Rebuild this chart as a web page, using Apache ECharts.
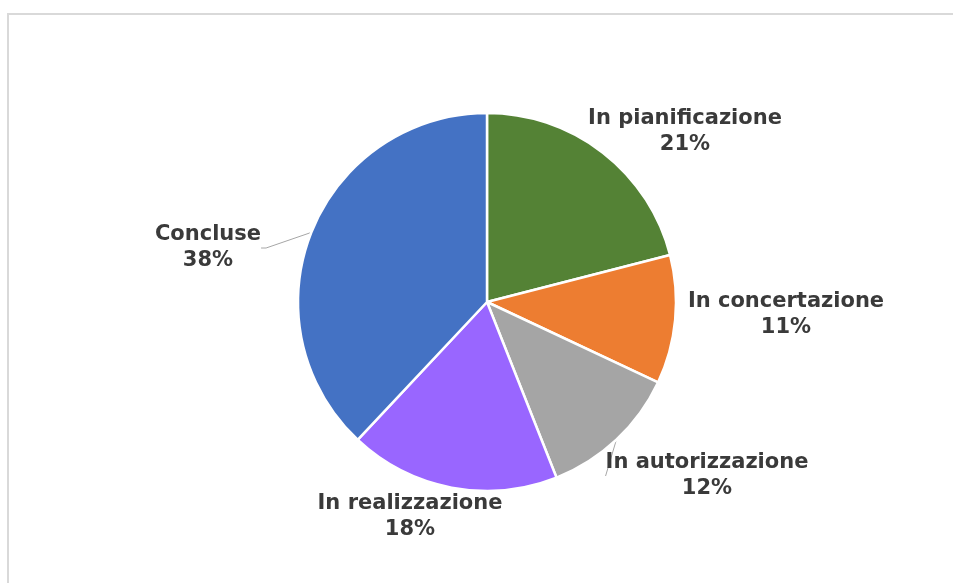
<!DOCTYPE html>
<html>
<head>
<meta charset="utf-8">
<script src="https://cdn.jsdelivr.net/npm/echarts@6/dist/echarts.min.js"></script>
<style>
    html, body { margin: 0; padding: 0; background: #fff; overflow: hidden; }
    #frame { position: absolute; left: 7px; top: 13px; width: 1000px; height: 1000px; border: 2px solid #d9d9d9; }
    #pie_chart { position: absolute; left: 0; top: 0; width: 953px; height: 583px; }
</style>
</head>
<body>
<div id="frame"></div>
<div id="pie_chart"></div>
<script>
// dati (percentuali)
var categories = ['In pianificazione', 'In concertazione', 'In autorizzazione', 'In realizzazione', 'Concluse'];
var values = [21, 11, 12, 18, 38];
var colors = ['#548235', '#ED7D31', '#A5A5A5', '#9966FF', '#4472C4'];
var showLine = [false, false, true, false, true];

// posizione centro etichette (stile Excel)
var labelPos = [[685, 132], [786, 315], [707, 476], [410, 517], [208, 248]];

var pie_chart = echarts.init(document.getElementById('pie_chart'));
var pie_option = {
    animation: false,
    series: [
        {
            type: 'pie',
            center: [487, 302],
            radius: 189,
            startAngle: 90,
            clockwise: true,
            data: categories.map(function (c, i) {
                return {
                    name: c,
                    value: values[i],
                    itemStyle: { color: colors[i] },
                    labelLine: { show: showLine[i] }
                };
            }),
            itemStyle: {
                borderColor: '#fff',
                borderWidth: 2.5
            },
            label: {
                show: true,
                position: 'outside',
                formatter: '{a|{b}}\n{a|{c}%}',
                rich: {
                    a: {
                        align: 'center',
                        fontSize: 21,
                        lineHeight: 26,
                        fontWeight: 'bold',
                        fontFamily: 'DejaVu Sans, sans-serif',
                        color: '#3a3a3a'
                    }
                }
            },
            labelLine: {
                length: 10,
                length2: 5,
                lineStyle: { color: '#A6A6A6', width: 1 }
            },
            labelLayout: function (params) {
                var p = labelPos[params.dataIndex];
                return {
                    x: p[0],
                    y: p[1],
                    align: 'center',
                    verticalAlign: 'middle'
                };
            }
        }
    ]
};
pie_chart.setOption(pie_option);
window.addEventListener('resize', function () {
    pie_chart.resize();
});
</script>
</body>
</html>
